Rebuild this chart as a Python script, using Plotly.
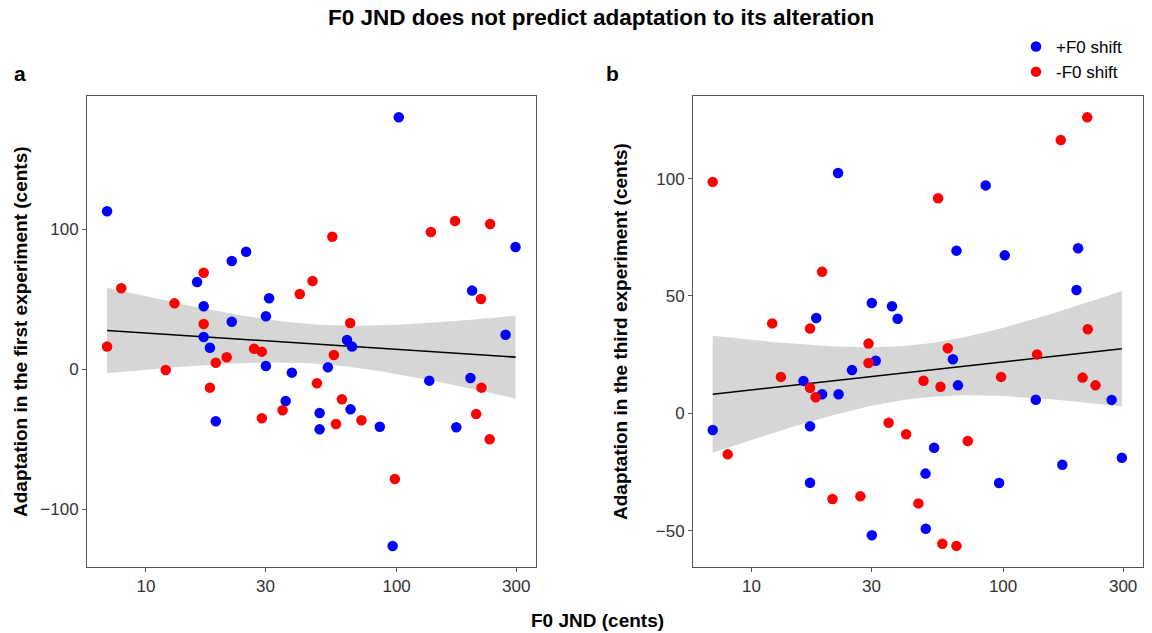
import numpy as np
import plotly.graph_objects as go
from plotly.subplots import make_subplots

# panel a: adaptation in the first experiment
a_up_jnd = [7.0, 102, 298, 25.1, 22.0, 16.0, 31.0, 17.0, 200, 30.1, 22.0, 272, 17.0, 63.4, 66.4,
            18.0, 30.1, 38.2, 53.2, 135, 197, 36.1, 49.3, 49.3, 65.5, 85.7, 173, 19.0, 96.4]
a_up_adapt = [112.9, 180, 87.4, 84, 77.4, 62.4, 50.7, 45, 56.2, 37.9, 34, 24.7, 23.1, 20.9, 16.2,
              15.4, 2.4, -2.4, 1.4, -8.1, -6.2, -22.6, -31.2, -42.9, -28.6, -41, -41.4, -37.1, -126.2]
a_down_jnd = [7.0, 7.97, 13.0, 12.0, 17.0, 17.0, 19.0, 21.0, 18.0, 27.0, 29.0, 41.1, 46.2, 55.4, 65.3,
              56.2, 48.1, 137, 171, 236, 217, 218, 35.1, 29.0, 60.5, 57.3, 72.4, 207.7, 235, 98.4]
a_down_adapt = [16.2, 57.9, 47.1, -0.5, 69, 32.4, 4.7, 8.6, -13.1, 14.7, 12.6, 53.8, 63.1, 94.7, 33.1,
                10.2, -10, 98.1, 105.9, 103.8, 50.2, -13.1, -29.3, -35, -21.4, -39.1, -36.4, -31.9, -50, -78.4]

# panel b: adaptation in the third experiment
b_up_jnd = [22.1, 85.3, 65.3, 101.6, 198.6, 195.8, 18.1, 30.1, 36.2, 38.1, 31.2, 25.1, 63.2, 16.1, 66.2,
            19.1, 22.2, 134.9, 270, 7.02, 17.1, 53.2, 49.2, 17.1, 96.4, 172, 296.5, 49.3, 30.1]
b_up_adapt = [102.4, 97.1, 69.3, 67.3, 70.3, 52.5, 40.6, 47, 45.6, 40.3, 22.4, 18.4, 23, 13.8, 11.9,
              8.1, 8.1, 5.8, 5.7, -7.1, -5.5, -14.7, -25.7, -29.6, -29.7, -21.9, -19, -49.2, -52]
b_down_jnd = [7.02, 55.2, 169.5, 216, 19.1, 12.1, 17.1, 29.2, 29.2, 60.3, 217, 136.5, 13.1, 48.3, 56.4,
              98.2, 207, 233, 17.1, 18.0, 8.05, 35.1, 41.2, 72.4, 21.0, 27.1, 46.1, 57.4, 65.3]
b_down_adapt = [98.6, 91.6, 116.4, 126.1, 60.3, 38.3, 36.1, 29.7, 21.4, 27.7, 35.8, 25.1, 15.5, 13.9, 11.3,
                15.5, 15.2, 11.9, 10.9, 6.8, -17.5, -4.0, -8.9, -11.8, -36.5, -35.4, -38.4, -55.6, -56.5]

x_ticks = [10, 30, 100, 300]
BLUE = "#0000ff"
RED = "#ff0000"
FONT = "Liberation Sans, Arial, sans-serif"


def fit_band(xs, ys, n=80):
    # linear fit of y on log10(x) with a 95% confidence band
    lx = np.log10(np.array(xs, dtype=float))
    y = np.array(ys, dtype=float)
    slope, icpt = np.polyfit(lx, y, 1)
    resid = y - (slope * lx + icpt)
    s = np.sqrt(np.sum(resid ** 2) / (len(y) - 2))
    grid = np.linspace(lx.min(), lx.max(), n)
    se = s * np.sqrt(1 / len(y) + (grid - lx.mean()) ** 2 / np.sum((lx - lx.mean()) ** 2))
    pred = slope * grid + icpt
    return 10 ** grid, pred, pred - 2.0 * se, pred + 2.0 * se


fig = make_subplots(rows=1, cols=2)

panels = [
    (1, a_up_jnd, a_up_adapt, a_down_jnd, a_down_adapt),
    (2, b_up_jnd, b_up_adapt, b_down_jnd, b_down_adapt),
]
for col, uj, ua, dj, da in panels:
    gx, pred, lo, hi = fit_band(uj + dj, ua + da)
    fig.add_trace(go.Scatter(x=np.concatenate([gx, gx[::-1]]), y=np.concatenate([hi, lo[::-1]]),
                             fill="toself", fillcolor="rgba(153,153,153,0.4)", line=dict(width=0),
                             mode="lines", hoverinfo="skip", showlegend=False), row=1, col=col)
    fig.add_trace(go.Scatter(x=gx, y=pred, mode="lines", line=dict(color="black", width=1.6),
                             showlegend=False), row=1, col=col)
    fig.add_trace(go.Scatter(x=uj, y=ua, mode="markers", name="+F0 shift",
                             marker=dict(color=BLUE, size=10.5), showlegend=(col == 1),
                             legendgroup="up"), row=1, col=col)
    fig.add_trace(go.Scatter(x=dj, y=da, mode="markers", name="-F0 shift",
                             marker=dict(color=RED, size=10.5), showlegend=(col == 1),
                             legendgroup="down"), row=1, col=col)

axis_common = dict(showgrid=False, zeroline=False, showline=True, mirror=True,
                   linecolor="#555555", linewidth=1, ticks="outside", ticklen=4,
                   tickcolor="#555555", tickfont=dict(family=FONT, size=17, color="#333333"))

fig.update_xaxes(type="log", tickvals=x_ticks, ticktext=[str(t) for t in x_ticks], **axis_common)
fig.update_xaxes(domain=[87 / 1152, 536 / 1152], range=[0.765, 2.556], row=1, col=1)
fig.update_xaxes(domain=[693 / 1152, 1143 / 1152], range=[0.768, 2.556], row=1, col=2)
fig.update_yaxes(**axis_common)
fig.update_yaxes(domain=[1 - 567 / 633, 1 - 96 / 633], range=[-141.2, 195.2],
                 tickvals=[-100, 0, 100], row=1, col=1)
fig.update_yaxes(domain=[1 - 567 / 633, 1 - 96 / 633], range=[-65.5, 135.2],
                 tickvals=[-50, 0, 50, 100], row=1, col=2)


def label(text, x, y, size, angle=0):
    return dict(text=text, x=x / 1152, y=1 - y / 633, xref="paper", yref="paper",
                xanchor="center", yanchor="middle", showarrow=False, textangle=angle,
                font=dict(family=FONT, size=size, color="black"))


fig.update_layout(
    width=1152, height=633,
    margin=dict(l=0, r=0, t=0, b=0),
    plot_bgcolor="white", paper_bgcolor="white",
    font=dict(family=FONT),
    legend=dict(x=1016 / 1152, y=1 - 29 / 633, xanchor="left", yanchor="top",
                font=dict(family=FONT, size=17, color="black"), tracegroupgap=0,
                bgcolor="rgba(0,0,0,0)"),
    annotations=[
        label("<b>F0 JND does not predict adaptation to its alteration</b>", 601, 18, 22.5),
        label("<b>a</b>", 20, 73, 21),
        label("<b>b</b>", 612, 73, 21),
        label("<b>Adaptation in the first experiment (cents)</b>", 20, 332, 19, -90),
        label("<b>Adaptation in the third experiment (cents)</b>", 620, 332, 19, -90),
        label("<b>F0 JND (cents)</b>", 597, 620, 19),
    ],
)

fig.write_html("out.html", config={"displayModeBar": False},
               post_script="document.body.style.margin='0';")
